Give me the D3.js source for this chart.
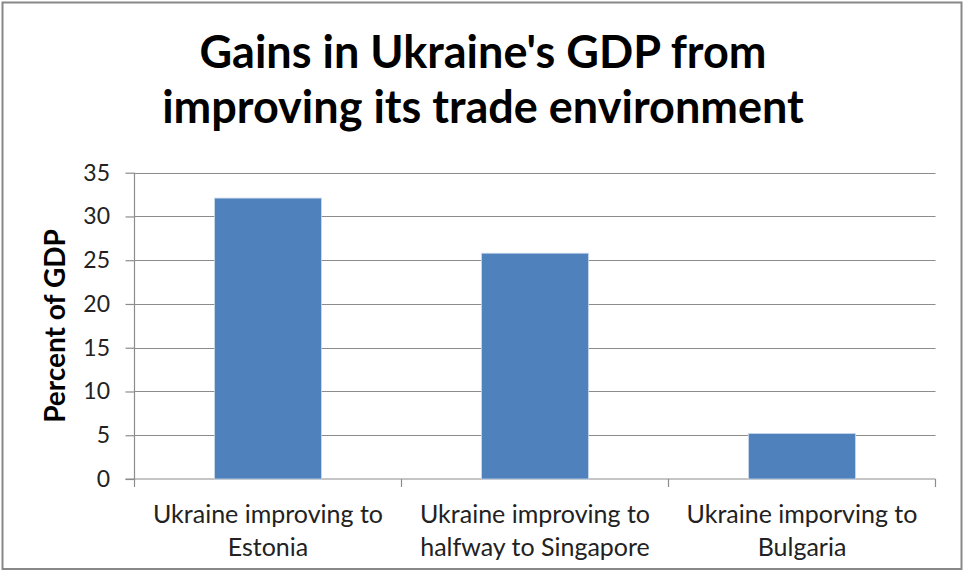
<!DOCTYPE html>
<html>
<head>
<meta charset="utf-8">
<script src="https://cdn.jsdelivr.net/npm/d3@7"></script>
<style>
  html, body { margin: 0; padding: 0; background: #fff; }
  svg { display: block; font-family: Lato, "Open Sans", sans-serif; }
</style>
</head>
<body>
<svg id="chart" width="963" height="579"></svg>
<script>
// Chart data
const titleLines = ["Gains in Ukraine's GDP from", "improving its trade environment"];
const categories = [
  ["Ukraine improving to", "Estonia"],
  ["Ukraine improving to", "halfway to Singapore"],
  ["Ukraine imporving to", "Bulgaria"]
];
const values = [32.1, 25.8, 5.2];
const yTicks = [0, 5, 10, 15, 20, 25, 30, 35];
const yLabel = "Percent of GDP";

const svg = d3.select("#chart");

// Outer frame
svg.append("rect")
  .attr("x", 2.5).attr("y", 2.5)
  .attr("width", 959).attr("height", 566.5)
  .attr("fill", "#fff")
  .attr("stroke", "#888").attr("stroke-width", 2);

const plot = { left: 134.5, right: 935.5, top: 172.7, bottom: 479 };

const keys = categories.map((c, i) => i);
const x = d3.scaleBand().domain(keys).range([plot.left, plot.right]).padding(0);
const y = d3.scaleLinear().domain([0, 35]).range([plot.bottom, plot.top]);

// Title
const title = svg.append("text")
  .attr("text-anchor", "middle")
  .attr("font-weight", "bold")
  .attr("font-size", 45)
  .attr("fill", "#000");
titleLines.forEach((t, i) => {
  title.append("tspan").attr("x", 483).attr("y", 68 + i * 55).text(t);
});

// Horizontal gridlines
svg.append("g")
  .selectAll("line")
  .data(yTicks.filter(d => d > 0))
  .join("line")
  .attr("x1", plot.left).attr("x2", plot.right)
  .attr("y1", d => Math.round(y(d)) + 0.5).attr("y2", d => Math.round(y(d)) + 0.5)
  .attr("stroke", "#8c8c8c").attr("stroke-width", 1.2);

// Y axis
const yAxis = svg.append("g")
  .attr("transform", `translate(${plot.left},0)`)
  .call(d3.axisLeft(y).tickValues(yTicks).tickSize(9).tickPadding(15.5));
yAxis.select(".domain").attr("stroke", "#8c8c8c").attr("stroke-width", 1.2)
  .attr("d", `M0,${plot.top}V${plot.bottom}`);
yAxis.selectAll(".tick line").attr("stroke", "#8c8c8c").attr("stroke-width", 1.2);
yAxis.selectAll(".tick text")
  .attr("font-family", "Lato, sans-serif")
  .attr("font-size", 23).attr("fill", "#222");

// Y axis title
svg.append("text")
  .attr("transform", `translate(64.5,326) rotate(-90)`)
  .attr("text-anchor", "middle")
  .attr("font-weight", "bold").attr("font-size", 28)
  .attr("fill", "#000")
  .text(yLabel);

// X axis baseline and category ticks
const xAxis = svg.append("g")
  .attr("transform", `translate(0,${plot.bottom})`);
xAxis.append("line")
  .attr("x1", plot.left - 9).attr("x2", plot.right)
  .attr("stroke", "#8c8c8c").attr("stroke-width", 1.2);
const bounds = keys.map(k => x(k)).concat([x(keys[keys.length - 1]) + x.bandwidth()]);
xAxis.selectAll("line.tk")
  .data(bounds)
  .join("line").attr("class", "tk")
  .attr("x1", d => d).attr("x2", d => d)
  .attr("y1", 0).attr("y2", 8)
  .attr("stroke", "#8c8c8c").attr("stroke-width", 1.2);

// Category labels
const labels = svg.append("g");
categories.forEach((lines, i) => {
  const t = labels.append("text")
    .attr("text-anchor", "middle")
    .attr("font-size", 25).attr("fill", "#222");
  lines.forEach((ln, j) => {
    t.append("tspan")
      .attr("x", x(i) + x.bandwidth() / 2)
      .attr("y", 523 + j * 32.5)
      .text(ln);
  });
});

// Bars
const barW = x.bandwidth() * 0.4;
svg.append("g")
  .selectAll("rect")
  .data(values)
  .join("rect")
  .attr("x", (d, i) => x(i) + (x.bandwidth() - barW) / 2)
  .attr("y", d => y(d))
  .attr("width", barW)
  .attr("height", d => y(0) - y(d))
  .attr("fill", "#4f81bd")
  .attr("stroke", "#c9d7ea").attr("stroke-width", 0.8);
</script>
</body>
</html>
